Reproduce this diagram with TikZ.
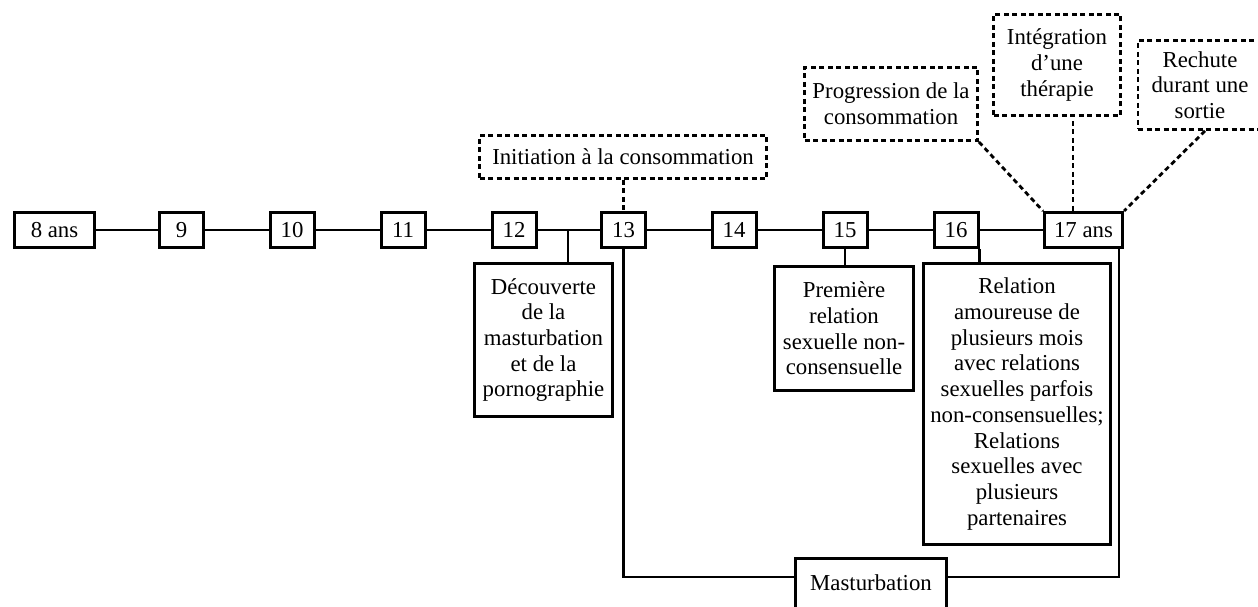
\documentclass[tikz,border=0pt]{standalone}
\usepackage{fontspec}
\setmainfont{Liberation Serif}
\begin{document}
\begin{tikzpicture}[x=1pt,y=-1pt,
  every node/.style={font=\fontsize{22.8}{25.7}\selectfont, inner sep=0pt, align=center},
  agebox/.style={draw, line width=3pt, minimum height=35pt},
  eventbox/.style={draw, line width=3pt},
  notebox/.style={draw, line width=2.8pt, dash pattern=on 5pt off 3.5pt},
  link/.style={line width=2.7pt},
  notelink/.style={line width=2.8pt, dash pattern=on 5pt off 3.5pt}]
\useasboundingbox[fill=white] (0,0) rectangle (1258,607);

% ages along the timeline
\node[agebox, minimum width=80pt] (a8)  at (54.5,230)  {8 ans};
\node[agebox, minimum width=44pt] (a9)  at (181.5,230) {9};
\node[agebox, minimum width=44pt] (a10) at (292,230)   {10};
\node[agebox, minimum width=44pt] (a11) at (403,230)   {11};
\node[agebox, minimum width=44pt] (a12) at (514,230)   {12};
\node[agebox, minimum width=44pt] (a13) at (623.5,230) {13};
\node[agebox, minimum width=44pt] (a14) at (734,230)   {14};
\node[agebox, minimum width=44pt] (a15) at (845,230)   {15};
\node[agebox, minimum width=44pt] (a16) at (956,230)   {16};
\node[agebox, minimum width=78pt] (a17) at (1083.5,230) {17 ans};

\draw[link] (a8) -- (a9) -- (a10) -- (a11) -- (a12) -- (a13) -- (a14) -- (a15) -- (a16) -- (a17);

% dashed notes above the timeline
\node[notebox, minimum width=287pt, minimum height=43pt] (init) at (623,157) {Initiation à la consommation};
\node[notebox, minimum width=173pt, minimum height=73pt] (prog) at (891,104) {Progression de la\\consommation};
\node[notebox, minimum width=127pt, minimum height=101pt] (integ) at (1057,65) {Intégration\\d’une\\thérapie};
\node[notebox, minimum width=124pt, minimum height=89pt] (rech) at (1200,85) {Rechute\\durant une\\sortie};

\draw[notelink] (init.south -| a13.north) -- (a13.north);
\draw[notelink] (prog.south east) -- (a17.north west);
\draw[notelink] ([xshift=16pt,yshift=-4pt]integ.south) -- ([xshift=16pt]integ.south |- a17.north);
\draw[notelink] ([xshift=5pt]rech.south) -- (a17.north east);

% events below the timeline
\node[eventbox, minimum width=138pt, minimum height=153pt] (decouv) at (543.5,340)
  {Découverte\\de la\\masturbation\\et de la\\pornographie};
\node[eventbox, minimum width=139pt, minimum height=124pt] (prem) at (844,328.5)
  {Première\\relation\\sexuelle non-\\consensuelle};
\node[eventbox, minimum width=187pt, minimum height=281pt] (rel) at (1017,404)
  {Relation\\amoureuse de\\plusieurs mois\\avec relations\\sexuelles parfois\\non-consensuelles;\\Relations\\sexuelles avec\\plusieurs\\partenaires};
\node[eventbox, minimum width=151pt, minimum height=50pt] (mast) at (871,583) {Masturbation};

\coordinate (d12) at (568,230);
\draw[link] (d12) -- (d12 |- decouv.north);
\draw[link] (a15.south) -- (a15.south |- prem.north);
\draw[link] (a16.south east) -- (a16.south east |- rel.north);
\draw[link] (a13.south) |- ([yshift=6pt]mast.west);
\draw[link] ([xshift=-5pt]a17.south east) |- ([yshift=6pt]mast.east);
\end{tikzpicture}
\end{document}
